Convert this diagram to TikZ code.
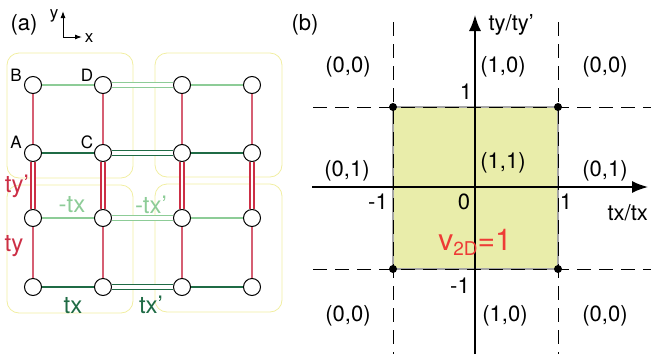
\documentclass[tikz,border=0pt]{standalone}
\usepackage{fontspec}
\setmainfont{TeX Gyre Heros}
\usetikzlibrary{arrows.meta,positioning}
\definecolor{hopred}{HTML}{CC2E45}
\definecolor{hoppink}{HTML}{D65F73}
\definecolor{lightgrn}{HTML}{8DCC97}
\definecolor{darkgrn}{HTML}{1F6B45}
\definecolor{cellyellow}{HTML}{F1EEA2}
\definecolor{bzfill}{HTML}{E9EDAA}
\definecolor{vred}{HTML}{EE3B36}

\begin{document}
\begin{tikzpicture}[x=1pt, y=-1pt,
    site/.style={circle, draw, line width=1pt, fill=white, minimum size=17pt, inner sep=0pt},
    hy/.style={hoppink, line width=1.6pt},
    hyy/.style={hopred, double=white, double distance=2.6pt, line width=1.3pt},
    hxl/.style={lightgrn, line width=2pt},
    hxd/.style={darkgrn, line width=2pt},
    hxxl/.style={lightgrn, double=white, double distance=3.5pt, line width=0.9pt},
    hxxd/.style={darkgrn, double=white, double distance=3.5pt, line width=0.9pt},
    cell/.style={draw=cellyellow, rounded corners=12pt, line width=0.8pt},
    lbl/.style={font=\fontsize{17}{19}\selectfont},
    num/.style={font=\fontsize{22}{25}\selectfont},
    hop/.style={font=\fontsize{24}{27}\selectfont},
    dashln/.style={dash pattern=on 14pt off 8pt, line width=0.7pt},
    axis/.style={-{Latex[length=16pt,width=12pt]}, line width=1.6pt}
]
\useasboundingbox (0,0) rectangle (651,354);

% (a) lattice
\draw[cell] (7,53) rectangle (133,178);
\draw[cell] (155,53) rectangle (282,177);
\draw[cell] (7,185) rectangle (133,313);
\draw[cell] (155,184) rectangle (282,312);

\foreach \c/\x in {1/33,2/103,3/182,4/252}
  \foreach \r/\y in {1/85,2/153,3/218,4/287}
    \node[site] (s\r\c) at (\x,\y) {};

\foreach \c in {1,2,3,4} {
  \draw[hy] (s1\c) -- (s2\c);
  \draw[hyy] (s2\c) -- (s3\c);
  \draw[hy] (s3\c) -- (s4\c);
}
\draw[hxl] (s11) -- (s12);  \draw[hxl] (s13) -- (s14);
\draw[hxl] (s31) -- (s32);  \draw[hxl] (s33) -- (s34);
\draw[hxd] (s21) -- (s22);  \draw[hxd] (s23) -- (s24);
\draw[hxd] (s41) -- (s42);  \draw[hxd] (s43) -- (s44);
\draw[hxxl] (s12) -- (s13);  \draw[hxxl] (s32) -- (s33);
\draw[hxxd] (s22) -- (s23);  \draw[hxxd] (s42) -- (s43);

\node[lbl] (lb) at (16,75) {B};
\node[lbl] (ld) at (87,75) {D};
\node[lbl] (la) at (16,142) {A};
\node[lbl] (lc) at (87,142) {C};

\node[hop, text=hopred] (tyq) at (17,186) {ty'};
\node[hop, text=hopred] (ty) at (14,246) {ty};
\node[hop, text=lightgrn] (mtx) at (72,205) {-tx};
\node[hop, text=lightgrn] (mtxq) at (151,205) {-tx'};
\node[hop, text=darkgrn] (tx) at (73,306) {tx};
\node[hop, text=darkgrn] (txq) at (151,305) {tx'};

\node[num] (pa) at (24,25) {(a)};
\coordinate (o) at (63,37);
\coordinate (oy) at (63,11);
\coordinate (ox) at (82,37);
\draw[-{Latex[length=7pt,width=5pt]}, line width=1pt] (o) -- (oy);
\draw[-{Latex[length=7pt,width=5pt]}, line width=1pt] (o) -- (ox);
\node[lbl] at (54,16) {y};
\node[lbl] at (89,38) {x};

% (b) phase diagram
\node[num] (pb) at (305,25) {(b)};
\fill[bzfill] (393,107) rectangle (558,269);
\draw[gray!70, line width=1.2pt] (393,107) rectangle (558,269);
\draw[dashln] (393,22) -- (393,354);
\draw[dashln] (558,22) -- (558,354);
\draw[dashln] (313,107) -- (651,107);
\draw[dashln] (313,269) -- (651,269);
\foreach \p in {(393,107),(558,107),(393,269),(558,269)}
  \fill \p circle (4pt);
\draw[axis] (475,354) -- (475,15);
\draw[axis] (312,187) -- (648,187);

\node[num, anchor=west] at (485,25) {ty/ty'};
\node[num, anchor=west] at (604,213) {tx/tx};
\node[num] at (348,67) {(0,0)};
\node[num] at (503,67) {(1,0)};
\node[num] at (605,67) {(0,0)};
\node[num] at (347,171) {(0,1)};
\node[num] at (503,163) {(1,1)};
\node[num] at (605,171) {(0,1)};
\node[num] at (348,316) {(0,0)};
\node[num] at (505,316) {(1,0)};
\node[num] at (605,316) {(0,0)};
\node[num] at (466,92) {1};
\node[num] at (378,202) {-1};
\node[num] at (464,202) {0};
\node[num] at (566,202) {1};
\node[num] at (460,286) {-1};
\node[text=vred, font=\fontsize{30}{32}\selectfont, anchor=base] at (475,250)
  {v\raisebox{-5pt}{\fontsize{19}{20}\selectfont 2D}=1};
\end{tikzpicture}
\end{document}
